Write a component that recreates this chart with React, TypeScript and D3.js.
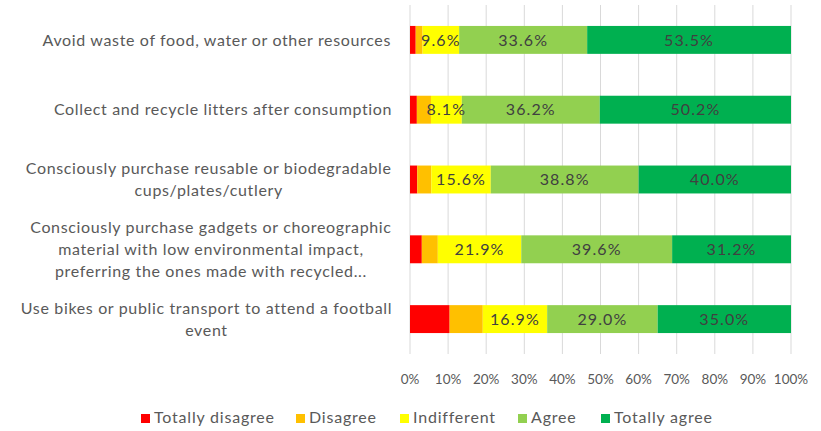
import React from "react";
import * as d3 from "d3";

const categories = [
  ["Avoid waste of food, water or other resources"],
  ["Collect and recycle litters after consumption"],
  ["Consciously purchase reusable or biodegradable", "cups/plates/cutlery"],
  ["Consciously purchase gadgets or choreographic", "material with low environmental impact,", "preferring the ones made with recycled..."],
  ["Use bikes or public transport to attend a football", "event"],
];
const seriesNames = ["Totally disagree", "Disagree", "Indifferent", "Agree", "Totally agree"];
const seriesColors = ["#FF0000", "#FFC000", "#FFFF00", "#92D050", "#00B050"];
const totallyDisagree = [1.5, 1.8, 1.9, 3.1, 10.4];
const disagree = [1.8, 3.7, 3.7, 4.2, 8.7];
const indifferent = [9.6, 8.1, 15.6, 21.9, 16.9];
const agree = [33.6, 36.2, 38.8, 39.6, 29.0];
const totallyAgree = [53.5, 50.2, 40.0, 31.2, 35.0];
const showLabel = [false, false, true, true, true];
const xTicks = [0, 10, 20, 30, 40, 50, 60, 70, 80, 90, 100];

const W = 821;
const H = 431;
const FONT = "Lato, 'Open Sans', sans-serif";
const TXT = "#404040";
const TXT2 = "#595959";
const CAT_SIZE = 16;
const CAT_LS = 0.65;

function measure(text: string, size: number, ls: number): number {
  const c = document.createElement("canvas").getContext("2d");
  if (!c) return text.length * size * 0.5;
  c.font = `${size}px Lato`;
  return c.measureText(text).width + ls * text.length;
}

export default function App() {
  const series = [totallyDisagree, disagree, indifferent, agree, totallyAgree];
  const x = d3.scaleLinear().domain([0, 100]).range([410, 791]);
  const y = d3
    .scaleBand<number>()
    .domain(categories.map((_, i) => i))
    .range([5, 354])
    .paddingInner(0.6)
    .paddingOuter(0.3);
  const rows = categories.map((_, i) => {
    let acc = 0;
    return series.map((s, k) => {
      const x0 = acc;
      acc += s[i];
      return { k, x0, x1: acc, v: s[i] };
    });
  });
  const lineH = 22;
  const labelRight = 392;
  const legendX = [141, 296, 400, 518, 601];
  return (
    <svg width={W} height={H} style={{ position: "absolute", left: 0, top: 0, background: "#fff" }}>
      <g>
        {xTicks.map((t) => (
          <line key={t} x1={x(t)} x2={x(t)} y1={5} y2={354} stroke="#D9D9D9" strokeWidth={1} />
        ))}
      </g>
      {rows.map((segs, i) => (
        <g key={i}>
          {segs.map((s) => (
            <rect
              key={s.k}
              x={x(s.x0)}
              y={y(i)!}
              width={x(s.x1) - x(s.x0)}
              height={y.bandwidth()}
              fill={seriesColors[s.k]}
            />
          ))}
          {segs.map((s) =>
            showLabel[s.k] ? (
              <text
                key={"l" + s.k}
                x={(x(s.x0) + x(s.x1)) / 2}
                y={y(i)! + y.bandwidth() / 2}
                dy="0.35em"
                textAnchor="middle"
                fontFamily={FONT}
                fontSize={16}
                letterSpacing={1.1}
                fill={TXT}
              >
                {s.v.toFixed(1)}%
              </text>
            ) : null
          )}
        </g>
      ))}
      {categories.map((lines, i) => {
        const cy = y(i)! + y.bandwidth() / 2;
        const start = cy - ((lines.length - 1) * lineH) / 2;
        const maxW = Math.max(...lines.map((l) => measure(l, CAT_SIZE, CAT_LS)));
        const cx = labelRight - maxW / 2;
        return (
          <text
            key={i}
            textAnchor="middle"
            fontFamily={FONT}
            fontSize={CAT_SIZE}
            letterSpacing={CAT_LS}
            fill={TXT2}
          >
            {lines.map((l, j) => (
              <tspan key={j} x={cx} y={start + j * lineH} dy="0.35em">
                {l}
              </tspan>
            ))}
          </text>
        );
      })}
      {xTicks.map((t) => (
        <text
          key={t}
          x={x(t)}
          y={379}
          dy="0.35em"
          textAnchor="middle"
          fontFamily={FONT}
          fontSize={13.5}
          fill={TXT2}
        >
          {t}%
        </text>
      ))}
      {seriesNames.map((n, k) => (
        <g key={n} transform={`translate(${legendX[k]},0)`}>
          <rect x={0} y={414} width={9} height={9} fill={seriesColors[k]} />
          <text x={13} y={423} fontFamily={FONT} fontSize={16} letterSpacing={0.8} fill={TXT2}>
            {n}
          </text>
        </g>
      ))}
    </svg>
  );
}
